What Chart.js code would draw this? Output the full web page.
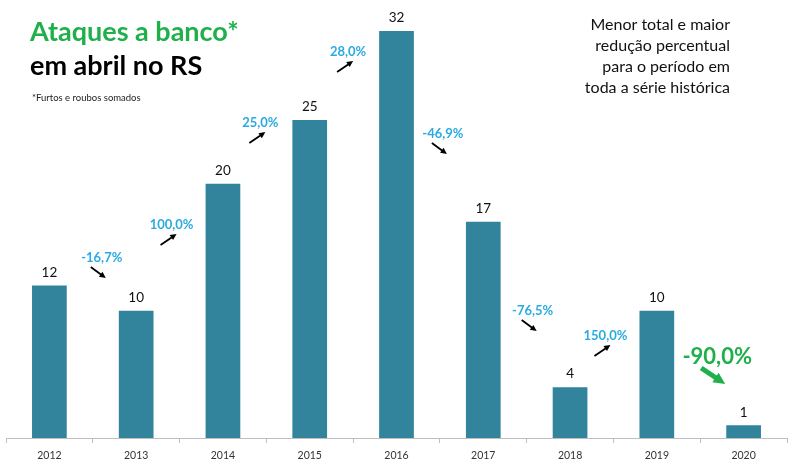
<!DOCTYPE html>
<html>
<head>
<meta charset="utf-8">
<script src="https://cdn.jsdelivr.net/npm/chart.js@4"></script>
<style>
  html, body { margin: 0; padding: 0; background: #fff; }
  #wrap { width: 800px; height: 464px; }
</style>
</head>
<body>
<div id="wrap"><canvas id="chart" width="800" height="464"></canvas></div>
<script>
// dados
const years = ['2012', '2013', '2014', '2015', '2016', '2017', '2018', '2019', '2020'];
const attacks = [12, 10, 20, 25, 32, 17, 4, 10, 1];
const changeLabels = ['-16,7%', '100,0%', '25,0%', '28,0%', '-46,9%', '-76,5%', '150,0%', '-90,0%'];
const titleLines = ['Ataques a banco*', 'em abril no RS'];
const footnote = '*Furtos e roubos somados';
const noteLines = ['Menor total e maior', 'redução percentual', 'para o período em', 'toda a série histórica'];

const BAR = '#31849b';
const CYAN = '#29abe2';
const GREEN = '#1fb04c';
const FONT = 'Lato, "Open Sans", sans-serif';

// valores acima das barras
const valueLabels = {
  id: 'valueLabels',
  afterDatasetsDraw(chart) {
    const ctx = chart.ctx;
    const meta = chart.getDatasetMeta(0);
    ctx.save();
    ctx.font = '13.5px ' + FONT;
    ctx.fillStyle = '#111';
    ctx.textAlign = 'center';
    ctx.textBaseline = 'middle';
    meta.data.forEach((bar, i) => {
      ctx.fillText(String(attacks[i]), bar.x, bar.y - 13);
    });
    ctx.restore();
  }
};

function drawArrow(ctx, x1, y1, x2, y2, width, head, color) {
  const a = Math.atan2(y2 - y1, x2 - x1);
  const bx = x2 - Math.cos(a) * head * 0.8;
  const by = y2 - Math.sin(a) * head * 0.8;
  ctx.strokeStyle = color;
  ctx.fillStyle = color;
  ctx.lineWidth = width;
  ctx.beginPath();
  ctx.moveTo(x1, y1);
  ctx.lineTo(bx, by);
  ctx.stroke();
  ctx.beginPath();
  ctx.moveTo(x2, y2);
  ctx.lineTo(x2 - Math.cos(a - 0.45) * head, y2 - Math.sin(a - 0.45) * head);
  ctx.lineTo(x2 - Math.cos(a + 0.45) * head, y2 - Math.sin(a + 0.45) * head);
  ctx.closePath();
  ctx.fill();
}

// variacoes percentuais entre os anos
const changeNotes = {
  id: 'changeNotes',
  afterDatasetsDraw(chart) {
    const ctx = chart.ctx;
    const meta = chart.getDatasetMeta(0);
    const yScale = chart.scales.y;
    // deslocamento x (px) a partir do meio entre barras e altura (unidades do eixo)
    const dx = [9, -8, -6, -5, 3, 6, -8, 17];
    const lv = [14.15, 16.75, 24.76, 30.35, 23.9, 9.98, 8.02, 6.37];
    ctx.save();
    ctx.textAlign = 'center';
    ctx.textBaseline = 'middle';
    changeLabels.forEach((txt, i) => {
      const cx = (meta.data[i].x + meta.data[i + 1].x) / 2 + dx[i];
      const cy = yScale.getPixelForValue(lv[i]);
      const up = attacks[i + 1] > attacks[i];
      const last = i === changeLabels.length - 1;
      if (last) {
        ctx.font = 'bold 22px ' + FONT;
        ctx.fillStyle = GREEN;
        ctx.fillText(txt, cx, cy);
        drawArrow(ctx, cx - 16, cy + 11, cx + 8, cy + 27, 5, 13, GREEN);
      } else {
        ctx.font = 'bold 13px ' + FONT;
        ctx.fillStyle = CYAN;
        ctx.fillText(txt, cx, cy);
        if (up) drawArrow(ctx, cx - 11, cy + 20, cx + 5, cy + 9, 1.8, 7, '#000');
        else drawArrow(ctx, cx - 11, cy + 9, cx + 4, cy + 20, 1.8, 7, '#000');
      }
    });
    ctx.restore();
  }
};

// titulo e nota
const headerText = {
  id: 'headerText',
  afterDraw(chart) {
    const ctx = chart.ctx;
    ctx.save();
    ctx.textBaseline = 'alphabetic';
    ctx.textAlign = 'left';
    ctx.font = 'bold 27px ' + FONT;
    ctx.fillStyle = GREEN;
    ctx.fillText(titleLines[0], 30, 41);
    ctx.fillStyle = '#000';
    ctx.fillText(titleLines[1], 30, 75);
    ctx.font = '9.5px ' + FONT;
    ctx.fillStyle = '#222';
    ctx.textBaseline = 'middle';
    ctx.fillText(footnote, 32, 98);
    ctx.font = '16px ' + FONT;
    ctx.fillStyle = '#111';
    ctx.textAlign = 'right';
    noteLines.forEach((l, i) => ctx.fillText(l, 730, 25 + i * 21));
    ctx.restore();
  }
};

new Chart(document.getElementById('chart'), {
  type: 'bar',
  data: {
    labels: years,
    datasets: [{
      data: attacks,
      backgroundColor: BAR,
      categoryPercentage: 1,
      barPercentage: 0.4,
    }]
  },
  options: {
    responsive: false,
    animation: false,
    devicePixelRatio: 1,
    layout: { padding: { left: 6, right: 13, top: 31, bottom: 0 } },
    plugins: { legend: { display: false }, tooltip: { enabled: false } },
    scales: {
      x: {
        grid: { display: true, drawOnChartArea: false, drawTicks: true, tickLength: 5, color: '#bfbfbf', offset: true },
        border: { display: true, color: '#bfbfbf' },
        ticks: { color: '#333', font: { family: FONT, size: 10.5 }, padding: 6, maxRotation: 0 },
        afterFit: s => { s.height = 26; }
      },
      y: {
        display: false,
        min: 0,
        max: 32,
      }
    }
  },
  plugins: [valueLabels, changeNotes, headerText]
});
</script>
</body>
</html>
